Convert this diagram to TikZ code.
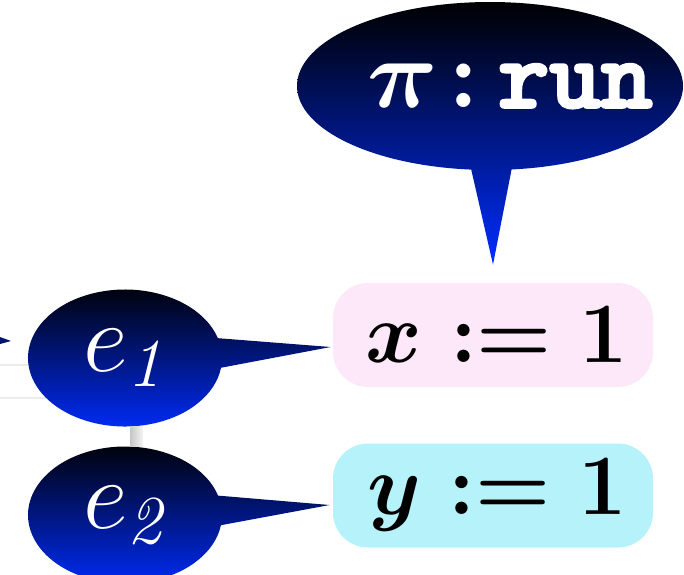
\documentclass[tikz,border=0pt]{standalone}
\usepackage{fix-cm}
\usepackage[no-math]{fontspec}
\usetikzlibrary{shapes.callouts}
\newfontfamily\boldttfont{lmmonolt10-bold}[Extension=.otf, FakeBold=3]
\definecolor{calloutblue}{RGB}{0,45,255}
\definecolor{boxpink}{RGB}{253,232,250}
\definecolor{boxcyan}{RGB}{181,242,250}
\definecolor{tipnavy}{RGB}{0,20,110}
\tikzset{
  bubble/.style={ellipse callout, inner sep=0pt, top color=black, bottom color=calloutblue, text=white, draw=none},
  ebubble/.style={bubble, minimum width=97pt, minimum height=68.5pt, callout pointer arc=25,
    font=\fontsize{49}{55}\selectfont},
  stmt/.style={rounded corners=17.5pt, inner sep=0pt, minimum width=160pt, minimum height=52pt,
    font=\fontsize{43}{50}\selectfont\boldmath},
  faint/.style={draw=gray!15, line width=0.6pt},
}
\begin{document}
\begin{tikzpicture}[x=0.5pt,y=-0.5pt]
\useasboundingbox (0,0) rectangle (684,574);
% fragments of elements outside the view
\draw[faint] (0,365) -- (60,365);
\draw[faint] (0,398) -- (60,398);
\fill[tipnavy] (0,337) -- (11,341) -- (0,344) -- cycle;
% statements
\node[stmt, fill=boxpink] (sx) at (493,335) {\kern4pt$x := 1$};
\node[stmt, fill=boxcyan] (sy) at (493,495.5) {\kern4pt$y := 1$};
% callouts
\node[bubble, minimum width=193pt, minimum height=84pt, callout pointer arc=12,
  callout absolute pointer={([yshift=9pt]sx.north)},
  font=\fontsize{49}{55}\selectfont\boldmath] (pi) at (490,86)
  {\makebox[0pt]{\kern20pt$\pi\mkern1.7mu{:}\mkern3mu\hbox{\boldttfont run}$}};
\node[ebubble, callout absolute pointer={([xshift=-1pt,yshift=-6pt]sx.west)}] (e1) at (125,358)
  {\makebox[0pt]{\kern3pt$e_{\mathit{1}}$}};
\node[ebubble, callout absolute pointer={([xshift=-1.5pt,yshift=-4.75pt]sy.west)}] (e2) at (125,515)
  {\makebox[0pt]{\kern3pt$e_{\mathit{2}}$}};
% link between the two event bubbles
\shade[left color=gray!45, right color=gray!8] ([xshift=2.5pt]e1.south) rectangle ([xshift=9pt]e2.north);
\end{tikzpicture}
\end{document}
